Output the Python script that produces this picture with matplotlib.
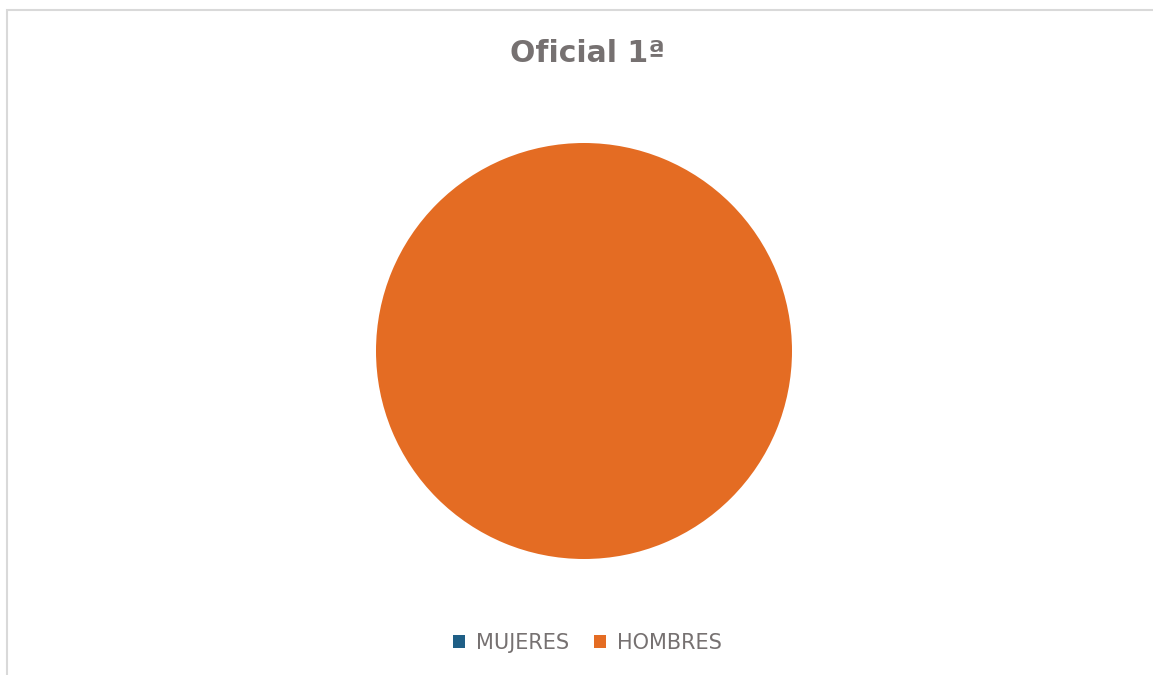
import matplotlib
matplotlib.use("Agg")
import matplotlib.pyplot as plt
from matplotlib.patches import Rectangle, Patch

# Data
labels = ["MUJERES", "HOMBRES"]
values = [0, 100]
colors = ["#1F5F86", "#E46C23"]
title = "Oficial 1ª"

plt.rcParams["font.family"] = ["DejaVu Sans"]

fig = plt.figure(figsize=(11.53, 6.75), dpi=100, facecolor="white")

# Chart frame
fig.patches.append(Rectangle((7 / 1153, -0.01), 1.02, 1 - 10 / 675 + 0.01,
                             transform=fig.transFigure, fill=False,
                             edgecolor="#D9D9D9", linewidth=1.5))

# Pie axes: center (584, 351), radius 208 px
r = 208
cx, cy = 584, 351
ax = fig.add_axes([(cx - r) / 1153, 1 - (cy + r) / 675, 2 * r / 1153, 2 * r / 675])
wedges, _ = ax.pie(values, colors=colors, startangle=0, counterclock=False,
                   wedgeprops=dict(edgecolor="none"))
ax.set_aspect("equal")
ax.set_xlim(-1, 1)
ax.set_ylim(-1, 1)

fig.text(cx / 1153 + 0.003, 1 - 53 / 675, title, ha="center", va="center",
         fontsize=21.5, fontweight="bold", color="#767171")

handles = [Patch(facecolor=c, edgecolor="none") for c in colors]
fig.legend(handles, labels, loc="center", bbox_to_anchor=(587 / 1153, 1 - 643 / 675),
           ncol=2, frameon=False, fontsize=15, labelcolor="#767171",
           handlelength=0.6, handleheight=0.6, handletextpad=0.5, columnspacing=1.2)

fig.savefig("out.png", dpi=100, facecolor="white")
